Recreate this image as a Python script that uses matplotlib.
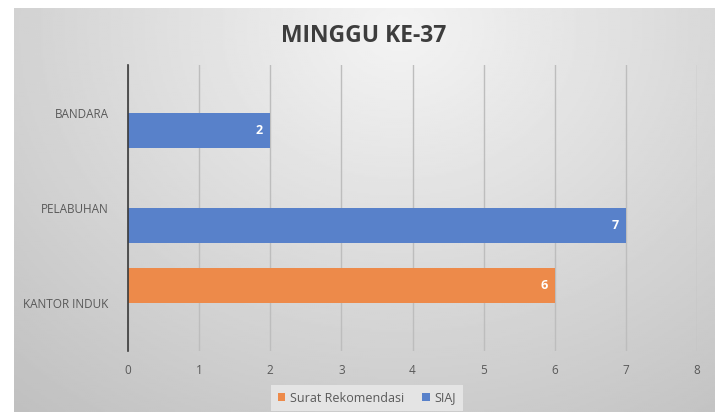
import numpy as np
import matplotlib
matplotlib.use("Agg")
import matplotlib.pyplot as plt

categories = ["KANTOR INDUK", "PELABUHAN", "BANDARA"]
surat_rekomendasi = [6, 0, 0]
siaj = [0, 7, 2]
series_names = ["Surat Rekomendasi", "SIAJ"]
x_ticks = [0, 1, 2, 3, 4, 5, 6, 7, 8]

W, H = 723, 412
fig = plt.figure(figsize=(W / 100, H / 100), dpi=100)
fig.patch.set_facecolor("white")

# background card with gradient
bg = fig.add_axes([14 / W, 0, (715 - 14) / W, (H - 8) / H])
bg.set_axis_off()
yy, xx = np.mgrid[0:1:200j, 0:1:350j]
d = np.sqrt(((xx - 0.55) / 0.75) ** 2 + ((yy - 0.05) / 1.1) ** 2)
img = 0.955 - 0.18 * np.clip(d, 0, 1.2)
bg.imshow(img, cmap="gray", vmin=0, vmax=1, aspect="auto", extent=[0, 1, 1, 0])
bg.set_xlim(0, 1)
bg.set_ylim(1, 0)

ax = fig.add_axes([128 / W, (H - 351) / H, (697 - 128) / W, (351 - 65) / H])
ax.patch.set_alpha(0)

y = np.arange(len(categories))
h = 0.366
off = 0.183
c_orange = "#ED8A4A"
c_blue = "#5881CA"
b1 = ax.barh(y + off, surat_rekomendasi, height=h, color=c_orange, label=series_names[0], zorder=3)
b2 = ax.barh(y - off, siaj, height=h, color=c_blue, label=series_names[1], zorder=3)

for bars, vals in ((b1, surat_rekomendasi), (b2, siaj)):
    for bar, v in zip(bars, vals):
        if v:
            ax.text(v - 0.1, bar.get_y() + bar.get_height() / 2, str(v), ha="right", va="center",
                    color="white", fontsize=9, fontweight="bold", family="Open Sans", zorder=4)

ax.set_xlim(0, 8)
ax.set_ylim(-0.5, 2.5)
ax.set_xticks(x_ticks)
ax.set_xticklabels([str(t) for t in x_ticks], family="Open Sans", fontsize=8.5, color="#595959")
ax.set_yticks(y)
ax.set_yticklabels(categories, family="Open Sans", fontsize=8.5, color="#595959")
ax.tick_params(axis="both", length=0)
ax.tick_params(axis="x", pad=9)
ax.tick_params(axis="y", pad=14)
ax.grid(axis="x", color="#bdbdbd", linewidth=1, zorder=0)
for s in ("top", "right", "bottom"):
    ax.spines[s].set_visible(False)
ax.spines["left"].set_color("#3a3a3a")
ax.spines["left"].set_linewidth(1.2)
ax.spines["left"].set_zorder(5)

fig.text(364 / W, 1 - 36 / H, "MINGGU KE-37", ha="center", va="center",
         fontsize=16.5, fontweight="bold", family="Open Sans", color="#3d3d3d")

leg = fig.legend(handles=[b1, b2], labels=series_names, loc="center", bbox_to_anchor=(367 / W, 1 - 398 / H),
                 ncol=2, frameon=True, fontsize=9, handlelength=0.6, handleheight=0.6,
                 handletextpad=0.4, columnspacing=1.4, borderpad=0.55)
leg.get_frame().set_facecolor("#e4e4e4")
leg.get_frame().set_edgecolor("none")
leg.get_frame().set_alpha(1)
leg.get_frame().set_boxstyle("square", pad=0)
for t in leg.get_texts():
    t.set_color("#595959")
    t.set_family("Open Sans")

fig.savefig("out.png", dpi=100)
